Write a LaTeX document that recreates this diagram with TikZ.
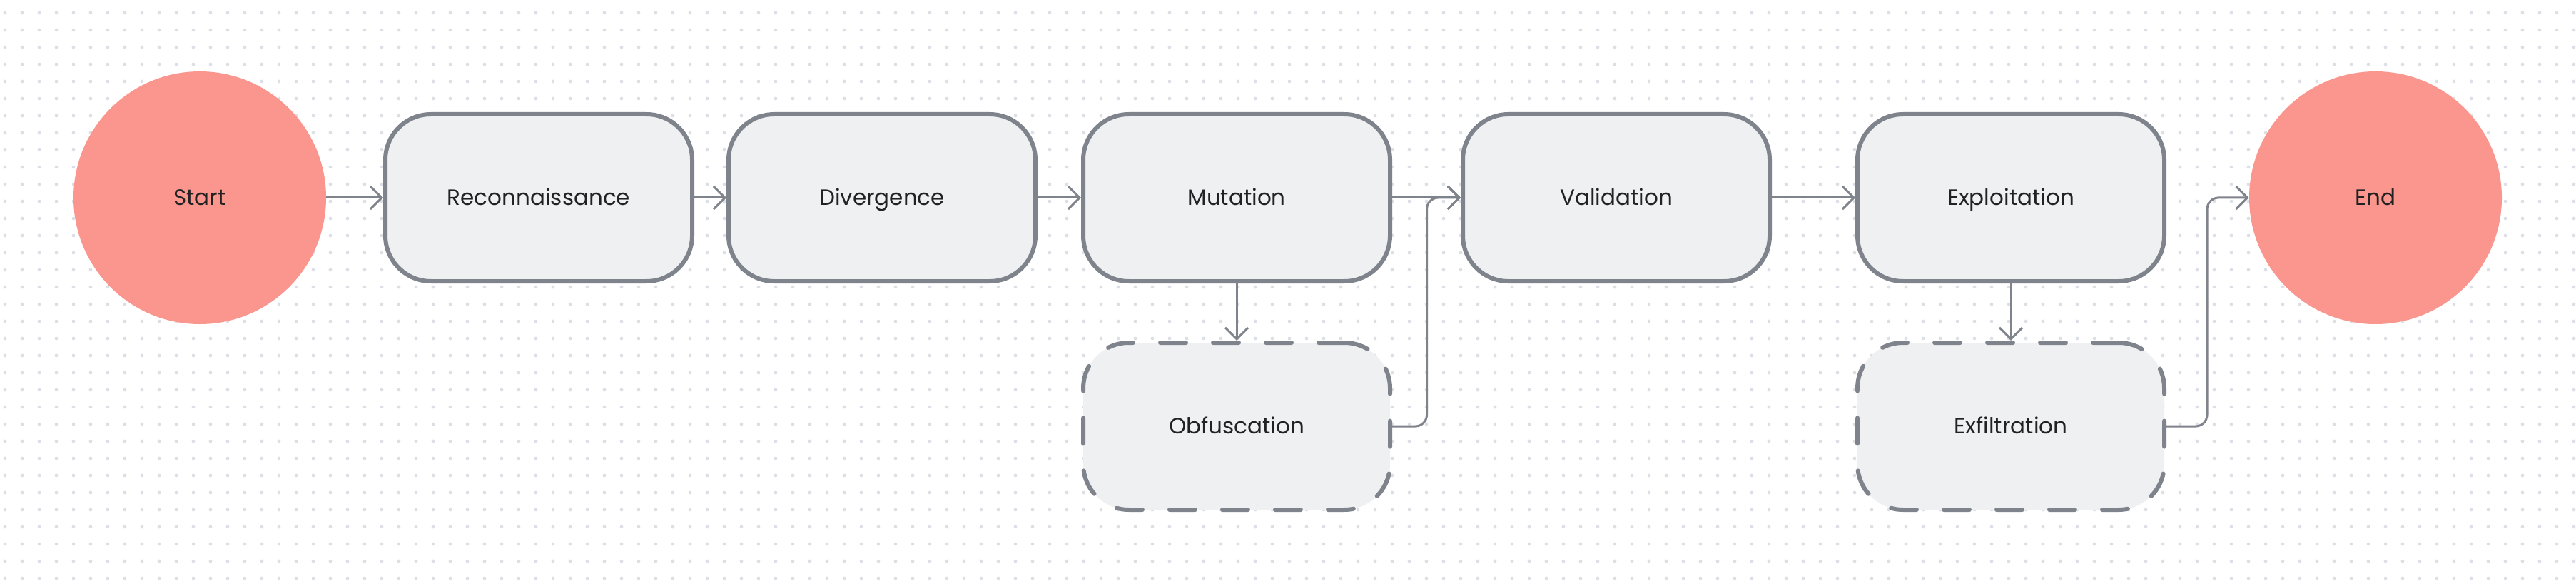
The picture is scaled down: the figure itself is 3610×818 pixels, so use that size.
\documentclass[tikz,border=0pt]{standalone}
\usepackage{fontspec}
\setmainfont{Poppins}
\usetikzlibrary{arrows.meta}
\definecolor{dotgray}{HTML}{DCDFE5}
\definecolor{boxfill}{HTML}{EFF0F2}
\definecolor{boxline}{HTML}{7F838C}
\definecolor{termfill}{HTML}{FA968D}
\definecolor{ink}{HTML}{222222}
\begin{document}
\begin{tikzpicture}[x=0.5pt,y=-0.5pt]
    \tikzstyle{stage}=[rectangle, rounded corners=32pt, draw=boxline, line width=3pt, fill=boxfill, minimum width=215pt, minimum height=117pt, inner sep=0pt, text=ink, text height=10.8pt, text depth=0pt, font=\fontsize{15.5}{18}\selectfont]
    \tikzstyle{side}=[stage, dash pattern=on 18pt off 19pt, line cap=round]
    \tikzstyle{term}=[circle, fill=termfill, minimum size=177pt, inner sep=0pt, text=ink, text height=10.8pt, text depth=0pt, font=\fontsize{15.5}{18}\selectfont]
    \tikzstyle{link}=[draw=boxline, line width=1.5pt, -{Straight Barb[length=8pt,width=16pt,line width=1.5pt]}]
    \useasboundingbox (0,0) rectangle (3610,818);
    % dotted canvas
    \foreach \i in {0,...,150}
      \foreach \j in {0,...,33}
        \fill[dotgray] (7+24*\i,18+24*\j) circle (1.2pt);
    \node[term] (start) at (280,277) {Start};
    \node[stage] (recon) at (755,277) {Reconnaissance};
    \node[stage] (diverge) at (1236,277) {Divergence};
    \node[stage] (mutate) at (1733,277) {Mutation};
    \node[stage] (validate) at (2265,277) {Validation};
    \node[stage] (exploit) at (2818,277) {Exploitation};
    \node[term] (finish) at (3329,277) {End};
    \node[side] (obfus) at (1733,597) {Obfuscation};
    \node[side] (exfil) at (2818,597) {Exfiltration};
    \coordinate (j1) at (1999.5,277);
    \coordinate (j2) at (3093,277);
    \draw[link] (start) -- (recon);
    \draw[link] (recon) -- (diverge);
    \draw[link] (diverge) -- (mutate);
    \draw[link] (mutate) -- (validate);
    \draw[link] (validate) -- (exploit);
    \draw[link] (mutate) -- (obfus);
    \draw[link] (exploit) -- (exfil);
    \draw[link, rounded corners=8pt] (obfus.east) -| (j1) -- (validate.west);
    \draw[link, rounded corners=8pt] (exfil.east) -| (j2) -- (finish.west);
\end{tikzpicture}
\end{document}
